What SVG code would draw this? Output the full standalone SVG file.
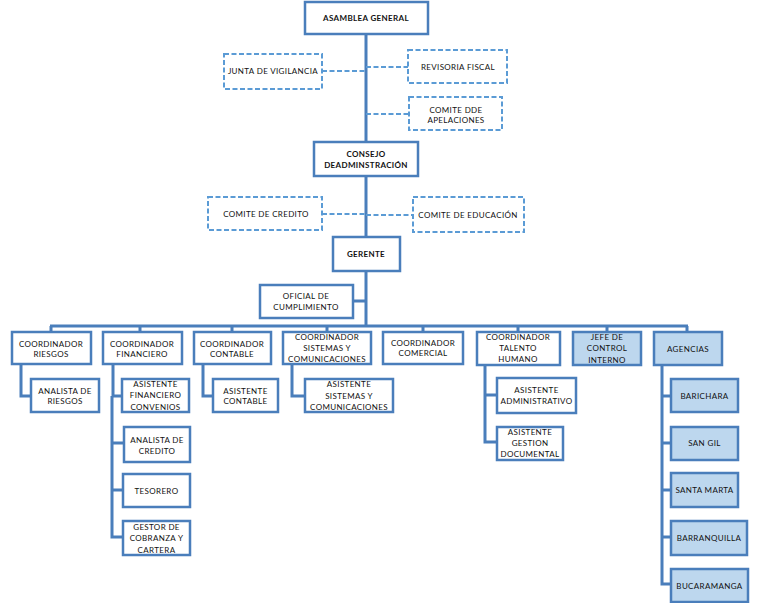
<svg xmlns="http://www.w3.org/2000/svg" width="758" height="603" viewBox="0 0 758 603">
<style>
.b{fill:#fff;stroke:#4A7EBB;stroke-width:2.5}
.f{fill:#BDD7EE;stroke:#4A7EBB;stroke-width:2.5}
.d{fill:#fff;stroke:#5B9BD5;stroke-width:2;stroke-dasharray:5 2.5}
.c{fill:none;stroke:#4A7EBB;stroke-width:3}
.dc{fill:none;stroke:#5B9BD5;stroke-width:2;stroke-dasharray:5 2.5}
text{font-family:Lato,"Liberation Sans",sans-serif;font-size:8px;letter-spacing:0.35px;fill:#111;text-anchor:middle}
.bd{font-weight:bold}
</style>
<rect width="758" height="603" fill="#fff"/>
<g id="connectors">
<path class="c" d="M366 34V142M366 176V237M366 271V326M353 301H366"/>
<path class="dc" d="M322 71H366M366 67H408M366 114H409M322 214H366M366 215H413"/>
<path class="c" d="M50 326H688M51 326V332M140 326V332M232 326V332M327 326V332M423 326V332M518 326V332M607 326V332M687 326V332"/>
<path class="c" d="M21 364V396H31M113 364V396H122M112 396V537H123M112 443H124M112 490H123M203 364V396H213M292 364V396H305M485 365V442H497M485 395H497M662 365V584H671M662 396H671M662 443H671M662 490H671M662 537H671"/>
</g>
<g id="asamblea"><rect class="b" x="305" y="2" width="123" height="32"/><text class="bd" x="366" y="21">ASAMBLEA GENERAL</text></g>
<g id="junta"><rect class="d" x="224" y="54" width="98" height="35"/><text x="273" y="74">JUNTA DE VIGILANCIA</text></g>
<g id="revisoria"><rect class="d" x="408" y="50" width="99" height="33"/><text x="458" y="70">REVISORIA FISCAL</text></g>
<g id="apelaciones"><rect class="d" x="409" y="97" width="93" height="33"/><text x="456" y="112.5">COMITE DDE</text><text x="456" y="123">APELACIONES</text></g>
<g id="consejo"><rect class="b" x="314" y="142" width="104" height="34"/><text class="bd" x="366" y="157">CONSEJO</text><text class="bd" x="366" y="168">DEADMINSTRACIÓN</text></g>
<g id="credito"><rect class="d" x="208" y="197" width="114" height="33"/><text x="266" y="217">COMITE DE CREDITO</text></g>
<g id="educacion"><rect class="d" x="413" y="197" width="111" height="35"/><text x="468" y="218">COMITE DE EDUCACIÓN</text></g>
<g id="gerente"><rect class="b" x="333" y="237" width="67" height="34"/><text class="bd" x="366" y="257">GERENTE</text></g>
<g id="oficial"><rect class="b" x="260" y="285" width="93" height="33"/><text x="306" y="299">OFICIAL DE</text><text x="306" y="310">CUMPLIMIENTO</text></g>
<g id="c-riesgos"><rect class="b" x="12" y="332" width="79" height="32"/><text x="51" y="347">COORDINADOR</text><text x="51" y="357">RIESGOS</text></g>
<g id="c-financiero"><rect class="b" x="103" y="332" width="79" height="32"/><text x="142" y="347">COORDINADOR</text><text x="142" y="357">FINANCIERO</text></g>
<g id="c-contable"><rect class="b" x="194" y="332" width="77" height="32"/><text x="232" y="347">COORDINADOR</text><text x="232" y="357">CONTABLE</text></g>
<g id="c-sistemas"><rect class="b" x="283" y="332" width="88" height="32"/><text x="327" y="340">COORDINADOR</text><text x="327" y="351">SISTEMAS Y</text><text x="327" y="362">COMUNICACIONES</text></g>
<g id="c-comercial"><rect class="b" x="383" y="332" width="80" height="32"/><text x="423" y="346">COORDINADOR</text><text x="423" y="356">COMERCIAL</text></g>
<g id="c-talento"><rect class="b" x="477" y="332" width="83" height="33"/><text x="518" y="340">COORDINADOR</text><text x="518" y="351">TALENTO</text><text x="518" y="362">HUMANO</text></g>
<g id="jefe"><rect class="f" x="573" y="332" width="68" height="33"/><text x="607" y="340">JEFE DE</text><text x="607" y="351">CONTROL</text><text x="607" y="363">INTERNO</text></g>
<g id="agencias"><rect class="f" x="654" y="332" width="68" height="33"/><text x="688" y="352">AGENCIAS</text></g>
<g id="analista-riesgos"><rect class="b" x="31" y="379" width="68" height="33"/><text x="65" y="394">ANALISTA DE</text><text x="65" y="404">RIESGOS</text></g>
<g id="asist-fin"><rect class="b" x="122" y="379" width="67" height="33"/><text x="155.5" y="386.5">ASISTENTE</text><text x="155.5" y="398">FINANCIERO</text><text x="155.5" y="409.5">CONVENIOS</text></g>
<g id="analista-credito"><rect class="b" x="124" y="427" width="66" height="35"/><text x="157" y="443">ANALISTA DE</text><text x="157" y="454">CREDITO</text></g>
<g id="tesorero"><rect class="b" x="123" y="474" width="67" height="33"/><text x="156.5" y="494">TESORERO</text></g>
<g id="gestor"><rect class="b" x="123" y="521" width="67" height="34"/><text x="156.5" y="530">GESTOR DE</text><text x="156.5" y="541">COBRANZA  Y</text><text x="156.5" y="553">CARTERA</text></g>
<g id="asist-contable"><rect class="b" x="213" y="379" width="65" height="33"/><text x="245.5" y="394">ASISTENTE</text><text x="245.5" y="404">CONTABLE</text></g>
<g id="asist-sistemas"><rect class="b" x="305" y="379" width="88" height="33"/><text x="349" y="387">ASISTENTE</text><text x="349" y="398.5">SISTEMAS Y</text><text x="349" y="410">COMUNICACIONES</text></g>
<g id="asist-admin"><rect class="b" x="497" y="378" width="79" height="35"/><text x="536.5" y="393">ASISTENTE</text><text x="536.5" y="404">ADMINISTRATIVO</text></g>
<g id="asist-gestion"><rect class="b" x="497" y="427" width="66" height="33"/><text x="530" y="435">ASISTENTE</text><text x="530" y="446">GESTION</text><text x="530" y="457">DOCUMENTAL</text></g>
<g id="barichara"><rect class="f" x="671" y="379" width="67" height="33"/><text x="704.5" y="399">BARICHARA</text></g>
<g id="sangil"><rect class="f" x="671" y="427" width="67" height="33"/><text x="704.5" y="446">SAN GIL</text></g>
<g id="santamarta"><rect class="f" x="671" y="473" width="67" height="34"/><text x="704.5" y="493">SANTA  MARTA</text></g>
<g id="barranquilla"><rect class="f" x="671" y="521" width="76" height="34"/><text x="709" y="541">BARRANQUILLA</text></g>
<g id="bucaramanga"><rect class="f" x="671" y="569" width="77" height="33"/><text x="709.5" y="589">BUCARAMANGA</text></g>
</svg>
